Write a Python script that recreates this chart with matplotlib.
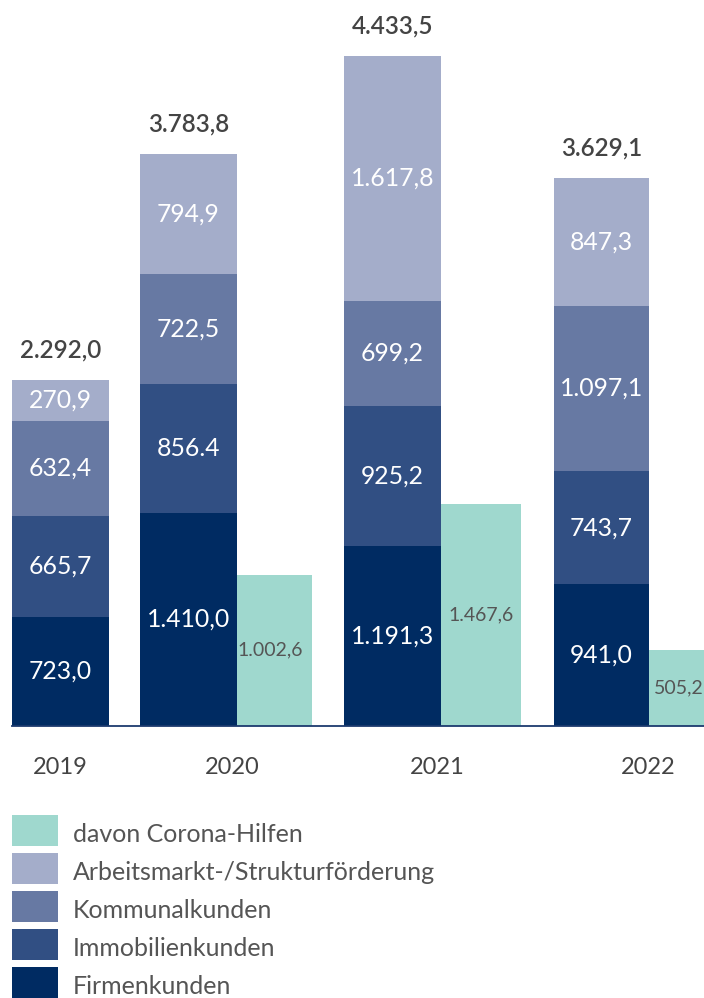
import matplotlib
matplotlib.use("Agg")
import matplotlib.pyplot as plt
from matplotlib.patches import Rectangle

plt.rcParams['font.family'] = ['Lato', 'DejaVu Sans']

years = ['2019', '2020', '2021', '2022']
firmen = [723.0, 1410.0, 1191.3, 941.0]
immobilien = [665.7, 856.4, 925.2, 743.7]
kommunal = [632.4, 722.5, 699.2, 1097.1]
arbeitsmarkt = [270.9, 794.9, 1617.8, 847.3]
corona = [None, 1002.6, 1467.6, 505.2]

series_names = ['Firmenkunden', 'Immobilienkunden', 'Kommunalkunden',
                'Arbeitsmarkt-/Strukturförderung']
corona_name = 'davon Corona-Hilfen'
colors = ['#002b62', '#314f83', '#6779a3', '#a4adca']
corona_color = '#9fd8ce'


def fmt(v):
    s = f"{v:,.1f}"
    return s.replace(',', 'X').replace('.', ',').replace('X', '.')


# layout (pixel-like x units)
bar_x = [60.5, 188.5, 392.5, 601.5]
bar_w = [97, 97, 97, 95]
corona_w = [0, 75, 80, 60]
corona_lbl_dx = [0, -4, 0, 0]
year_x = [60, 232, 437, 648]
px_per_unit = 0.1511

fig = plt.figure(figsize=(7.04, 9.98), dpi=100)
ax = fig.add_axes([0, 272 / 998, 1, 726 / 998])
ax.set_xlim(0, 704)
ax.set_ylim(0, 726 / px_per_unit)
ax.axis('off')

layers = [firmen, immobilien, kommunal, arbeitsmarkt]
for i in range(len(years)):
    bottom = 0
    for j, layer in enumerate(layers):
        v = layer[i]
        ax.bar(bar_x[i], v, bar_w[i], bottom=bottom, color=colors[j], linewidth=0)
        label = fmt(v)
        if years[i] == '2020' and j == 1:
            label = label.replace(',', '.')  # as printed in the source
        ax.text(bar_x[i], bottom + v / 2, label, ha='center', va='center',
                color='white', fontsize=17.8)
        bottom += v
    ax.annotate(fmt(bottom), (bar_x[i], bottom), xytext=(0, 30),
                textcoords='offset pixels', ha='center', va='center',
                color='#444444', fontsize=17.5, fontweight='semibold')
    if corona[i] is not None:
        left = bar_x[i] + bar_w[i] / 2
        ax.bar(left, corona[i], corona_w[i], align='edge', color=corona_color,
               linewidth=0)
        ax.text(left + corona_w[i] / 2 + corona_lbl_dx[i], corona[i] / 2, fmt(corona[i]),
                ha='center', va='center', color='#555555', fontsize=14)
    ax.annotate(years[i], (year_x[i], 0), xytext=(0, -41), textcoords='offset pixels',
                ha='center', va='center', color='#444444', fontsize=17)

ax.plot([12, 704], [0, 0], color='#1c3a6e', linewidth=1.3, clip_on=False)

# legend
leg_names = [corona_name] + series_names[::-1]
leg_colors = [corona_color] + colors[::-1]
for k, (name, c) in enumerate(zip(leg_names, leg_colors)):
    top = 815 + k * 38
    fig.patches.append(Rectangle((12 / 704, 1 - (top + 31) / 998), 46 / 704, 31 / 998,
                                 transform=fig.transFigure, color=c, linewidth=0))
    fig.text(73 / 704, 1 - (top + 20) / 998, name, ha='left', va='center',
             color='#555555', fontsize=18)

fig.savefig('out.png', dpi=100)
